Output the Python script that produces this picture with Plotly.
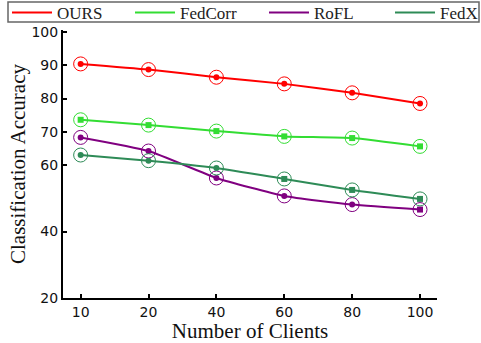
import plotly.graph_objects as go

clients = ["10", "20", "40", "60", "80", "100"]
ours = [90.4, 88.7, 86.4, 84.4, 81.7, 78.5]
fedcorr = [73.6, 72.0, 70.2, 68.6, 68.1, 65.6]
rofl = [68.3, 64.2, 56.1, 50.7, 48.1, 46.6]
fedx = [63.0, 61.3, 59.1, 55.8, 52.5, 49.8]
y_ticks = [20, 40, 60, 70, 80, 90, 100]

series = [
    ("OURS", ours, "#ff0000", ["circle"] * 6),
    ("FedCorr", fedcorr, "#33dd33", ["square"] * 6),
    ("RoFL", rofl, "#800080", ["circle"] * 5 + ["square"]),
    ("FedX", fedx, "#2e8b57", ["circle"] * 3 + ["square"] * 3),
]
legend_ids = ["legend", "legend2", "legend3", "legend4"]
legend_x = [7, 130, 264, 390]

W, H = 481, 343
L, R, T, B = 63, 44, 30, 45

fig = go.Figure()
for (name, vals, color, syms), lid in zip(series, legend_ids):
    fig.add_trace(go.Scatter(
        x=clients, y=vals, name=name, mode="lines", legend=lid,
        line=dict(color=color, width=2, shape="spline", smoothing=0.5),
    ))
    fig.add_trace(go.Scatter(
        x=clients, y=vals, mode="markers", showlegend=False, hoverinfo="skip",
        marker=dict(color=color, size=6, symbol=syms),
    ))
    fig.add_trace(go.Scatter(
        x=clients, y=vals, mode="markers", showlegend=False, hoverinfo="skip",
        marker=dict(symbol="circle-open", size=14, color=color, line=dict(width=1)),
    ))

pw, ph = W - L - R, H - T - B
# legend frame (decorative box)
fig.add_shape(
    type="rect", xref="paper", yref="paper",
    x0=(8 - L) / pw, x1=(479 - L) / pw,
    y0=(H - B - 22) / ph, y1=(H - B - 2) / ph,
    line=dict(color="#666666", width=1.5), fillcolor="rgba(0,0,0,0)", layer="above",
)

legend_style = dict(
    orientation="h", xref="container", yref="container",
    y=1 - 13 / H, xanchor="left", yanchor="middle",
    bgcolor="rgba(0,0,0,0)", borderwidth=0,
    font=dict(family="Liberation Serif", size=17, color="#222"),
    itemwidth=40,
)
legends = {lid: dict(legend_style, x=lx / W) for lid, lx in zip(legend_ids, legend_x)}

fig.update_layout(
    width=W, height=H,
    margin=dict(l=L, r=R, t=T, b=B, autoexpand=False),
    paper_bgcolor="white", plot_bgcolor="white",
    showlegend=True,
    **legends,
    xaxis=dict(
        type="category", range=[-0.26, 5.25],
        showline=True, linecolor="black", linewidth=2, mirror=False,
        ticks="inside", ticklen=4, tickwidth=1.5, tickcolor="black",
        showgrid=False, zeroline=False,
        tickfont=dict(family="DejaVu Sans", size=14, color="#111"),
        title=dict(text="Number of Clients", standoff=8,
                   font=dict(family="Liberation Serif", size=21, color="#111")),
    ),
    yaxis=dict(
        range=[20, 100.6], tickvals=y_ticks,
        showline=True, linecolor="black", linewidth=2, mirror=False,
        ticks="inside", ticklen=4, tickwidth=1.5, tickcolor="black",
        showgrid=False, zeroline=False,
        tickfont=dict(family="DejaVu Sans", size=14, color="#111"),
        title=dict(text="Classification Accuracy", standoff=0,
                   font=dict(family="Liberation Serif", size=21, color="#111")),
    ),
)

fig.write_html("out.html", config={"displayModeBar": False},
               post_script="document.body.style.margin='0';")
